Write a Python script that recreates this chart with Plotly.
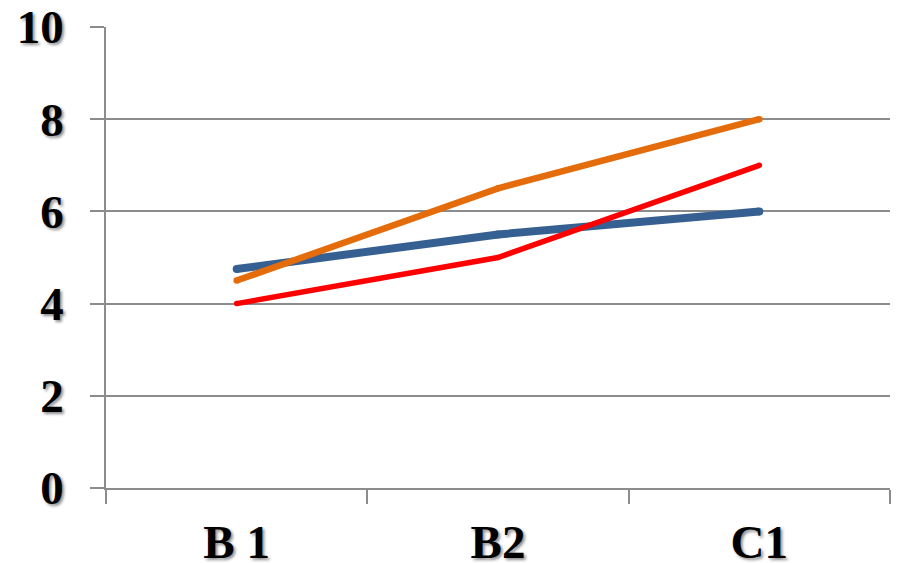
import plotly.graph_objects as go

categories = ["B 1", "B2", "C1"]
blue_vals = [4.75, 5.5, 6]
orange_vals = [4.5, 6.5, 8]
red_vals = [4, 5, 7]
y_ticks = [0, 2, 4, 6, 8, 10]

series = [
    (blue_vals, "#376092", 8),
    (orange_vals, "#E46C0A", 6.5),
    (red_vals, "#FF0000", 5.5),
]

font_family = "Liberation Serif, Times New Roman, serif"
label_font = dict(family=font_family, size=47, color="black", weight="bold",
                  shadow="2px 2px 3px rgba(0,0,0,0.45)")
grid_col = "#8c8c8c"

fig = go.Figure()
for vals, col, w in series:
    fig.add_trace(go.Scatter(
        x=categories, y=vals, mode="lines+markers",
        line=dict(color=col, width=w),
        marker=dict(color=col, size=w, line=dict(width=0)),
        hoverinfo="skip", showlegend=False,
    ))

fig.update_layout(
    width=903, height=563,
    margin=dict(l=106, r=13, t=27, b=75),
    paper_bgcolor="white", plot_bgcolor="white",
    xaxis=dict(
        type="category", range=[-0.5, 2.5], automargin=False,
        tickson="boundaries", ticks="outside", ticklen=14,
        tickcolor=grid_col, tickwidth=1.5,
        showline=True, linecolor=grid_col, linewidth=1.5,
        showgrid=False, tickfont=label_font, ticklabelstandoff=12,
    ),
    yaxis=dict(
        range=[0, 10], tickvals=y_ticks, automargin=False,
        ticks="outside", ticklen=14, tickcolor=grid_col, tickwidth=1.5,
        showline=True, linecolor=grid_col, linewidth=1.5,
        showgrid=True, gridcolor=grid_col, gridwidth=1.5,
        zeroline=False, tickfont=label_font, ticklabelstandoff=17,
    ),
)

fig.write_html("out.html")
